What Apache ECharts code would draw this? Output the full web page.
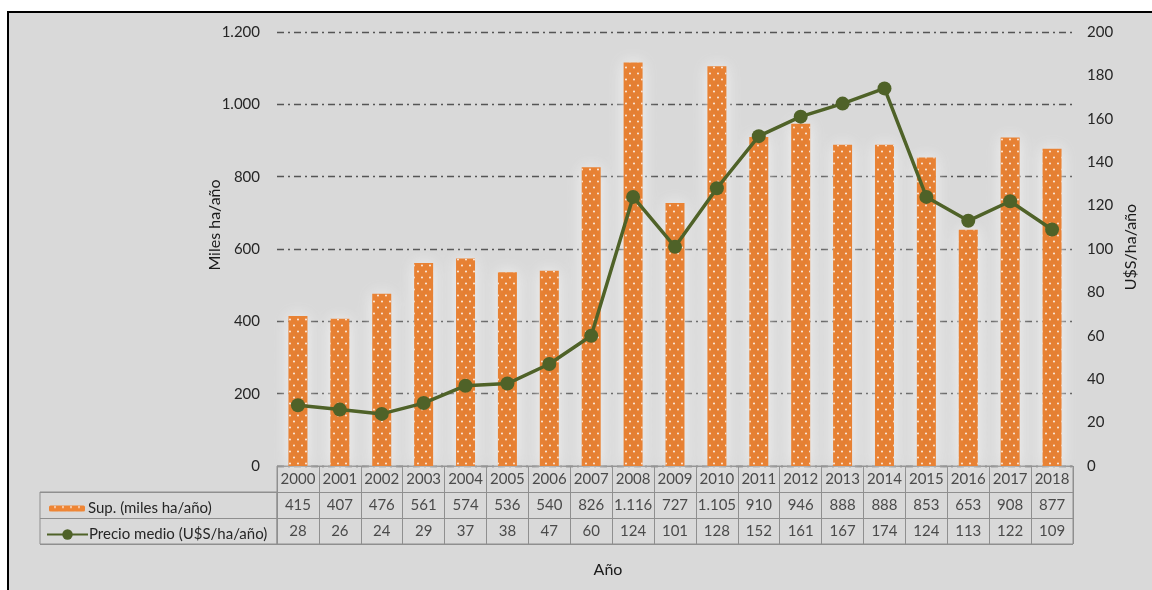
<!DOCTYPE html>
<html>
<head>
<meta charset="utf-8">
<script src="https://cdn.jsdelivr.net/npm/echarts@6/dist/echarts.min.js"></script>
<style>
html,body{margin:0;padding:0;background:#fff;width:1152px;height:590px;overflow:hidden;}
#frame{position:absolute;left:7px;top:11px;width:1160px;height:600px;background:#d9d9d9;border-top:2px solid #000;border-left:2px solid #000;}
#chart{position:absolute;left:0;top:0;width:1152px;height:590px;}
</style>
</head>
<body>
<div id="frame"></div>
<div id="chart"></div>
<script>
const years = ['2000','2001','2002','2003','2004','2005','2006','2007','2008','2009','2010','2011','2012','2013','2014','2015','2016','2017','2018'];
const superficie = [415,407,476,561,574,536,540,826,1116,727,1105,910,946,888,888,853,653,908,877];
const precio = [28,26,24,29,37,38,47,60,124,101,128,152,161,167,174,124,113,122,109];
const leftTicks = {min:0, max:1200, interval:200};
const rightTicks = {min:0, max:200, interval:20};
const supName = 'Sup. (miles ha/año)';
const precioName = 'Precio medio (U$S/ha/año)';
const leftTitle = 'Miles ha/año';
const rightTitle = 'U$S/ha/año';
const xTitle = 'Año';

const FONT = 'Lato';
const TXT = '#262626';
const GRIDC = '#8f8f8f';
function fmt(v){ return String(v).replace(/\B(?=(\d{3})+(?!\d))/g,'.'); }

const cells = [];
years.forEach((y,i)=>{
  cells.push([i,0,y]);
  cells.push([i,1,fmt(superficie[i])]);
  cells.push([i,2,fmt(precio[i])]);
});

const chart = echarts.init(document.getElementById('chart'), null, {renderer:'canvas'});
chart.setOption({
  backgroundColor:'transparent',
  textStyle:{fontFamily:FONT},
  animation:false,
  grid:[
    {left:277, right:79, top:32, bottom:124, show:false},
    {left:277, width:796, top:466, height:78, show:true, borderColor:GRIDC, borderWidth:1, backgroundColor:'transparent'},
    {left:40, width:237, top:492, height:52, show:true, borderColor:GRIDC, borderWidth:1, backgroundColor:'transparent'}
  ],
  xAxis:[
    {type:'category', gridIndex:0, data:years, axisLine:{show:false}, axisTick:{show:false}, axisLabel:{show:false}},
    {type:'category', gridIndex:1, data:years, axisLine:{show:false}, axisTick:{show:false}, axisLabel:{show:false},
      splitLine:{show:true, lineStyle:{color:GRIDC, width:1}}},
    {type:'category', gridIndex:2, data:['x'], show:false}
  ],
  yAxis:[
    {type:'value', gridIndex:0, min:leftTicks.min, max:leftTicks.max, interval:leftTicks.interval,
      axisLine:{show:false}, axisTick:{show:false},
      axisLabel:{formatter:fmt, color:TXT, fontSize:15, margin:17, fontFamily:FONT},
      splitLine:{show:true, lineStyle:{color:'#555', width:1.4, type:[7,4,2,4]}}},
    {type:'value', gridIndex:0, position:'right', min:rightTicks.min, max:rightTicks.max, interval:rightTicks.interval,
      axisLine:{show:false}, axisTick:{show:false},
      axisLabel:{color:TXT, fontSize:15, margin:14, fontFamily:FONT},
      splitLine:{show:false}},
    {type:'category', gridIndex:1, data:['a','b','c'], inverse:true, axisLine:{show:false}, axisTick:{show:false}, axisLabel:{show:false},
      splitLine:{show:true, lineStyle:{color:GRIDC, width:1}}},
    {type:'category', gridIndex:2, data:['a','b'], inverse:true, axisLine:{show:false}, axisTick:{show:false}, axisLabel:{show:false},
      splitLine:{show:true, lineStyle:{color:GRIDC, width:1}}}
  ],
  legend:[
    {data:[supName], orient:'vertical', left:44, top:496, itemWidth:36, itemHeight:6, itemGap:0,
      textStyle:{color:TXT, fontSize:15, fontFamily:FONT, padding:[0,0,0,-2]}, selectedMode:false},
    {data:[precioName], orient:'vertical', left:41, top:522, itemWidth:41, itemHeight:13, itemGap:0,
      textStyle:{color:TXT, fontSize:15, fontFamily:FONT, padding:[0,0,0,-4]}, selectedMode:false}
  ],
  series:[
    {name:supName, type:'bar', xAxisIndex:0, yAxisIndex:0, data:superficie, barWidth:19, z:2,
      itemStyle:{color:'#ee8535', shadowBlur:16, shadowColor:'rgba(255,255,255,1)',
        decal:{symbol:'circle', symbolSize:0.6, color:'rgba(255,255,255,0.95)', dashArrayX:[[4,4],[0,4,4,0]], dashArrayY:[3,3], rotation:0}}},
    {name:precioName, type:'line', xAxisIndex:0, yAxisIndex:1, data:precio, z:3,
      symbol:'circle', symbolSize:14, lineStyle:{color:'#4f6228', width:3.5},
      itemStyle:{color:'#4f6228'}},
    {type:'scatter', xAxisIndex:1, yAxisIndex:2, data:cells, symbolSize:1, itemStyle:{color:'transparent'},
      label:{show:true, position:'inside', formatter:p=>p.data[2], color:TXT, fontSize:15, fontFamily:FONT}, silent:true}
  ],
  graphic:[
    {type:'text', x:215, y:225, rotation:Math.PI/2,
      style:{text:leftTitle, fill:'#1a1a1a', font:'16px '+FONT, textAlign:'center', textVerticalAlign:'middle'}},
    {type:'text', x:1131, y:247, rotation:Math.PI/2,
      style:{text:rightTitle, fill:'#1a1a1a', font:'16px '+FONT, textAlign:'center', textVerticalAlign:'middle'}},
    {type:'text', x:608, y:570,
      style:{text:xTitle, fill:'#1a1a1a', font:'16px '+FONT, textAlign:'center', textVerticalAlign:'middle'}}
  ]
});
</script>
</body>
</html>
